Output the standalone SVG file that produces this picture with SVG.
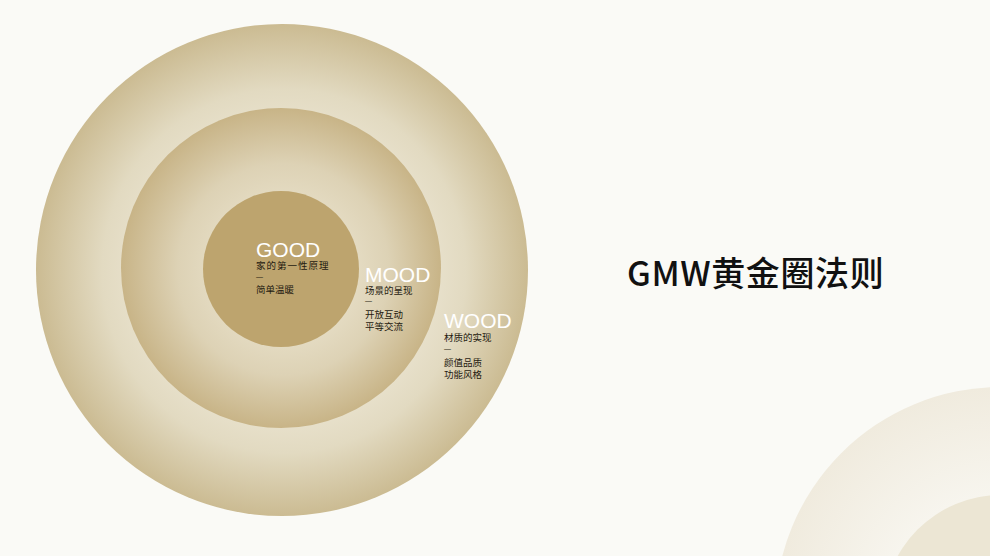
<svg xmlns="http://www.w3.org/2000/svg" width="990" height="556" viewBox="0 0 990 556">
<defs>
<radialGradient id="gOuter" cx="282" cy="270" r="246" fx="290" fy="274" gradientUnits="userSpaceOnUse">
<stop offset="0.6" stop-color="#e8e1cc"/>
<stop offset="0.74" stop-color="#e2dac1"/>
<stop offset="1" stop-color="#cbbb92"/>
</radialGradient>
<radialGradient id="gMid" cx="281" cy="268" r="160" fx="288" fy="272" gradientUnits="userSpaceOnUse">
<stop offset="0.45" stop-color="#e4dbc2"/>
<stop offset="0.66" stop-color="#ddd2b5"/>
<stop offset="1" stop-color="#c8b487"/>
</radialGradient>
<radialGradient id="gDeco" cx="1001" cy="613" r="226" gradientUnits="userSpaceOnUse">
<stop offset="0.52" stop-color="#f7f5ee"/>
<stop offset="1" stop-color="#f0ebde"/>
</radialGradient>
<style>
.ttl{font-family:"Liberation Sans",Arial,sans-serif;font-size:21px;fill:#ffffff}
.sub{font-family:"Noto Sans CJK SC",sans-serif;font-size:9.5px;fill:#1f1a10}
.dash{font-family:"Liberation Sans",Arial,sans-serif;font-size:7px;fill:#1f1a10}
.head{font-family:"Noto Sans CJK SC",sans-serif;font-size:34px;font-weight:500;fill:#111111}
</style>
</defs>
<rect width="990" height="556" fill="#fafaf6"/>
<g id="deco">
<circle cx="1001" cy="613" r="226" fill="url(#gDeco)"/>
<circle cx="1001" cy="613" r="118" fill="#ece6d4"/>
</g>
<g id="wood">
<circle cx="282" cy="270" r="246" fill="url(#gOuter)"/>
</g>
<g id="mood">
<circle cx="281" cy="268" r="160" fill="url(#gMid)"/>
</g>
<g id="good">
<circle cx="281" cy="269" r="78" fill="#bda46e"/>
</g>
<g id="good-label">
<text class="ttl" x="256" y="256.5">GOOD</text>
<text class="sub" x="256" y="269" letter-spacing="1">家的第一性原理</text>
<text class="dash" x="256" y="279">—</text>
<text class="sub" x="256" y="293">简单温暖</text>
</g>
<g id="mood-label">
<text class="ttl" x="365" y="281.5">MOOD</text>
<text class="sub" x="365" y="294">场景的呈现</text>
<text class="dash" x="365" y="303">—</text>
<text class="sub" x="365" y="318">开放互动</text>
<text class="sub" x="365" y="330">平等交流</text>
</g>
<g id="wood-label">
<text class="ttl" x="444" y="327.5">WOOD</text>
<text class="sub" x="444" y="340.5">材质的实现</text>
<text class="dash" x="444" y="351">—</text>
<text class="sub" x="444" y="366">颜值品质</text>
<text class="sub" x="444" y="378">功能风格</text>
</g>
<g id="title">
<text class="head" x="627" y="286" letter-spacing="0.6">GMW黄金圈法则</text>
</g>
<g id="connectors"/>
</svg>
